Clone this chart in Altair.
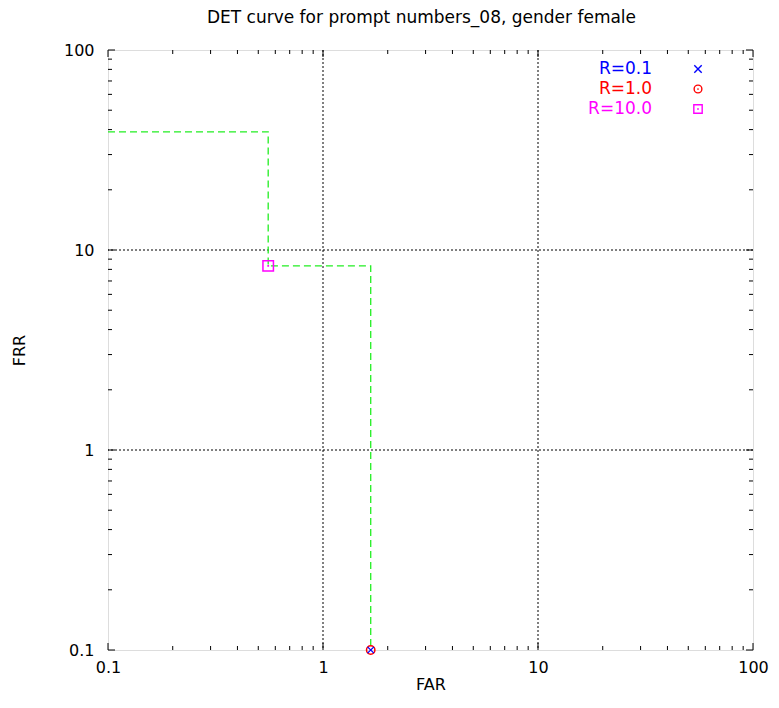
import altair as alt
import pandas as pd

# ---- data ----
curve_far = [0.1, 0.556, 0.556, 1.667, 1.667]
curve_frr = [39.0, 39.0, 8.33, 8.33, 0.1]
curve_order = [0, 1, 2, 3, 4]

pt_names = ["R=0.1", "R=1.0", "R=10.0"]
pt_far = [1.667, 1.667, 0.556]
pt_frr = [0.1, 0.1, 8.33]
pt_colors = ["#0000ff", "#ff0000", "#ff00ff"]

major_vals = [0.1, 1, 10, 100]
grid_vals = [1, 10]
minor_vals = [m * 10 ** k for k in (-1, 0, 1) for m in range(2, 10)]

W, H = 645, 600
FONT = "DejaVu Sans"
XPATH = "M-1,-1L1,1M1,-1L-1,1"

xs = alt.Scale(type="log", domain=[0.1, 100], nice=False)
ys = alt.Scale(type="log", domain=[0.1, 100], nice=False)

curve_df = pd.DataFrame({"far": curve_far, "frr": curve_frr, "o": curve_order})
pts_df = pd.DataFrame({"name": pt_names, "far": pt_far, "frr": pt_frr, "c": pt_colors})
grid_df = pd.DataFrame({"v": grid_vals})
minor_df = pd.DataFrame({"v": minor_vals})
major_df = pd.DataFrame({"v": major_vals})

lab = "datum.value < 1 ? '0.1' : format(datum.value, 'd')"
axis_x = alt.Axis(values=major_vals, labelExpr=lab, labelFlush=False, labelOverlap=False,
                  ticks=False, grid=False, domain=False, labelFont=FONT, labelFontSize=16,
                  labelColor="#000", labelPadding=9, title="FAR", titleFont=FONT,
                  titleFontSize=16, titleFontWeight="normal", titleColor="#000", titlePadding=1)
axis_y = alt.Axis(values=major_vals, labelExpr=lab, labelFlush=False, labelOverlap=False,
                  ticks=False, grid=False, domain=False, labelFont=FONT, labelFontSize=16,
                  labelColor="#000", labelPadding=14, title="FRR", titleFont=FONT,
                  titleFontSize=16, titleFontWeight="normal", titleColor="#000", titlePadding=36)

base_axes = alt.Chart(major_df).mark_point(opacity=0).encode(
    x=alt.X("v:Q", scale=xs, axis=axis_x),
    y=alt.Y("v:Q", scale=ys, axis=axis_y),
)

gx = alt.Chart(grid_df).mark_rule(color="#000", strokeDash=[2, 2], strokeWidth=1).encode(
    x=alt.X("v:Q", scale=xs))
gy = alt.Chart(grid_df).mark_rule(color="#000", strokeDash=[2, 2], strokeWidth=1).encode(
    y=alt.Y("v:Q", scale=ys))


def ticks(df, length, width):
    r = dict(color="#000", strokeWidth=width)
    return [
        alt.Chart(df).mark_rule(**r).encode(
            x=alt.X("v:Q", scale=xs), y=alt.value(H), y2=alt.value(H - length)),
        alt.Chart(df).mark_rule(**r).encode(
            x=alt.X("v:Q", scale=xs), y=alt.value(0), y2=alt.value(length)),
        alt.Chart(df).mark_rule(**r).encode(
            y=alt.Y("v:Q", scale=ys), x=alt.value(0), x2=alt.value(length)),
        alt.Chart(df).mark_rule(**r).encode(
            y=alt.Y("v:Q", scale=ys), x=alt.value(W), x2=alt.value(W - length)),
    ]


minor_ticks = ticks(minor_df, 4, 1)
major_ticks = ticks(major_df, 7, 1)

line = alt.Chart(curve_df).mark_line(color="#22ee22", strokeDash=[7, 4], strokeWidth=1.3,
                                     clip=True).encode(
    x=alt.X("far:Q", scale=xs), y=alt.Y("frr:Q", scale=ys), order="o:Q")


def pt_layer(i, shape, size, sw=1.5, filled=False):
    d = pts_df.iloc[[i]]
    return alt.Chart(d).mark_point(shape=shape, size=size, filled=filled, strokeWidth=sw,
                                   color=pt_colors[i], opacity=1).encode(
        x=alt.X("far:Q", scale=xs), y=alt.Y("frr:Q", scale=ys))


p_sq = pt_layer(2, "square", 110)
p_sq_dot = pt_layer(2, "square", 3, filled=True)
p_ci = pt_layer(1, "circle", 70)
p_ci_dot = pt_layer(1, "circle", 3, filled=True)
p_x = pt_layer(0, XPATH, 40, sw=1.3)

# legend (top-right, gnuplot style)
LEG_Y = [19, 39, 59]
LEG_TX = 544
LEG_SX = 590
leg_layers = []
for i in range(3):
    d = pts_df.iloc[[i]]
    leg_layers.append(alt.Chart(d).mark_text(align="right", baseline="middle", font=FONT,
                                             fontSize=17, color=pt_colors[i]).encode(
        text="name:N", x=alt.value(LEG_TX), y=alt.value(LEG_Y[i])))
shapes = [(XPATH, 55), ("circle", 60), ("square", 70)]
for i, (shp, sz) in enumerate(shapes):
    d = pts_df.iloc[[i]]
    leg_layers.append(alt.Chart(d).mark_point(shape=shp, size=sz, strokeWidth=1.4,
                                              color=pt_colors[i], opacity=1).encode(
        x=alt.value(LEG_SX), y=alt.value(LEG_Y[i])))
    if i > 0:
        leg_layers.append(alt.Chart(d).mark_point(shape=shp, size=3, filled=True,
                                                  color=pt_colors[i], opacity=1).encode(
            x=alt.value(LEG_SX), y=alt.value(LEG_Y[i])))

chart = alt.layer(
    base_axes, gx, gy, *minor_ticks, *major_ticks, line,
    p_sq, p_sq_dot, p_ci, p_ci_dot, p_x, *leg_layers,
).properties(
    width=W, height=H,
    title=alt.TitleParams("DET curve for prompt numbers_08, gender female", font=FONT,
                          fontSize=17, fontWeight="normal", color="#000", offset=15,
                          anchor="middle", dx=-9),
    autosize=alt.AutoSizeParams(type="none"),
    padding={"left": 100, "top": 42, "right": 16, "bottom": 48},
).configure_view(stroke="#000", strokeWidth=1.5).configure(background="white")

chart.save("out.html", embed_options={"renderer": "svg", "actions": False})
